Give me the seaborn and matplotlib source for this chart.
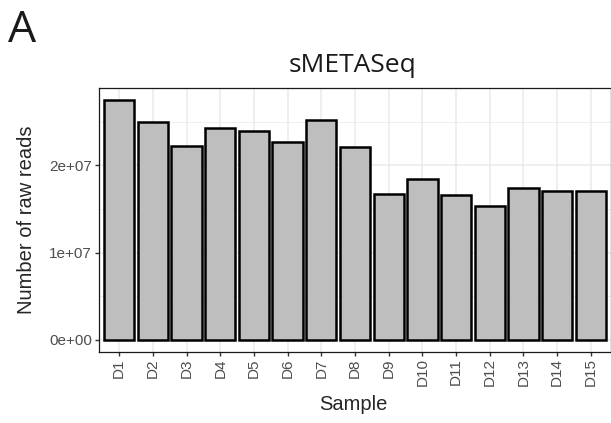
import numpy as np
import seaborn as sns
from matplotlib import pyplot as plt
from matplotlib.ticker import FuncFormatter, AutoMinorLocator

samples = ["D1", "D2", "D3", "D4", "D5", "D6", "D7", "D8",
           "D9", "D10", "D11", "D12", "D13", "D14", "D15"]
raw_reads = [2.753e7, 2.497e7, 2.22e7, 2.435e7, 2.40e7, 2.27e7, 2.52e7, 2.216e7,
             1.669e7, 1.845e7, 1.661e7, 1.53e7, 1.741e7, 1.707e7, 1.707e7]
y_ticks = [0, 1e7, 2e7]

sns.set_style("ticks")
plt.rcParams["font.family"] = ["Liberation Sans", "DejaVu Sans"]

W, H = 611, 423
fig = plt.figure(figsize=(W / 100, H / 100), dpi=100)
ax = fig.add_axes([99 / W, 1 - 351.5 / H, 1 - 99 / W, (351.5 - 88) / H])

sns.barplot(
    x=samples,
    y=raw_reads,
    color="#BEBEBE",
    saturation=1,
    edgecolor="black",
    linewidth=1.8,
    width=0.9,
    ax=ax,
)

ymax = max(raw_reads)
ax.set_xlim(-0.6, len(samples) - 0.4)
ax.set_ylim(-0.05 * ymax, 1.05 * ymax)
ax.set_yticks(y_ticks)
ax.yaxis.set_major_formatter(FuncFormatter(lambda v, p: f"{v:.0e}"))
ax.yaxis.set_minor_locator(AutoMinorLocator(2))

ax.set_axisbelow(True)
ax.grid(True, which="major", color="#EBEBEB", linewidth=1.1)
ax.grid(True, which="minor", axis="y", color="#EBEBEB", linewidth=0.6)
ax.tick_params(which="minor", length=0)
ax.tick_params(which="major", length=3, width=1.0, color="#333333",
               labelcolor="#4D4D4D", labelsize=11, pad=2)
ax.tick_params(axis="x", rotation=90)

for s in ax.spines.values():
    s.set_visible(True)
    s.set_color("#1A1A1A")
    s.set_linewidth(0.9)

ax.set_xlabel("")
ax.set_ylabel("")
fig.text(27 / W, 1 - 220 / H, "Number of raw reads", rotation=90,
         ha="center", va="center", fontsize=14.5)
fig.text(353 / W, 1 - 404 / H, "Sample", ha="center", va="center", fontsize=14.5)
fig.text(353 / W, 1 - 65 / H, "sMETASeq", ha="center", va="center",
         fontsize=19, family=["Open Sans", "DejaVu Sans"], color="#1A1A1A")
fig.text(8 / W, 1 - 42 / H, "A", ha="left", va="baseline", fontsize=32,
         family=["Open Sans", "DejaVu Sans"], color="#1A1A1A")

plt.savefig("out.png", dpi=100)
plt.close()
